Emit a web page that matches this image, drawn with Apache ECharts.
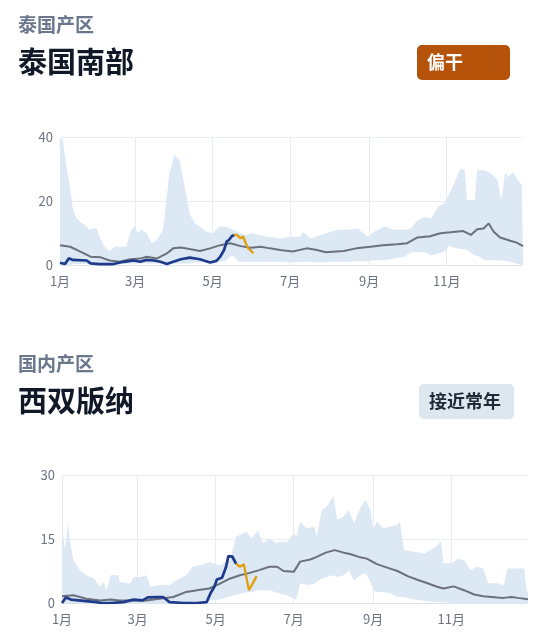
<!DOCTYPE html>
<html>
<head>
<meta charset="utf-8">
<script src="https://cdn.jsdelivr.net/npm/echarts@6/dist/echarts.min.js"></script>
<style>
html,body{margin:0;padding:0;background:#fff;}
#c{width:550px;height:635px;}
</style>
</head>
<body>
<div id="c"></div>
<script>
// ---- tick labels ----
const monthDays = [0, 59, 120, 181, 243, 304];
const monthLabels = ['1月', '3月', '5月', '7月', '9月', '11月'];

// ---- 泰国南部 ----
const thBandDays = [0,2,5,8,10,13,16,21,23,26,29,31,35,39,43,52,56,59,61,64,68,72,76,81,83,86,90,94,98,102,106,110,115,120,125,130,133,136,139,141,146,151,157,162,170,173,181,189,191,197,205,213,218,226,234,242,247,255,263,271,276,281,287,292,297,302,306,310,314,318,320,326,328,334,339,344,347,350,352,356,360,363,364];
const thUpper = [39,39.5,31,24,18,14.5,13.5,12,11,11.5,11.4,8.8,5.7,4.2,5.7,5.7,11,12,10,11,10,6.8,7.8,11,18,28.6,34.3,32.7,24.4,16,13,12,10.4,9.9,12,12,11.5,11,10.5,10,9.4,9.9,9.4,8.8,8.5,8.3,8.8,8.8,10.4,8.3,9.4,10.4,11,11,11.4,8.8,10.4,12,11,11,11.4,14,15,14.5,18.2,19.2,22.3,25.5,29.6,30.1,20.3,20.3,29.6,29.6,28.6,26.5,20.3,29,27.5,29,26.5,25,1];
const thLower = [0,0,0,0,0.2,0.3,0.3,0.3,0.3,0.3,0.3,0.3,0.2,0.2,0.2,0.3,0.5,0.5,0.5,0.5,0.5,0.5,0.5,0.5,0.5,0.5,0.5,0.5,0.5,0.5,0.8,0.8,1,1,1,1.2,2.5,3,1.5,1,1,1,1,1,1,1,0.8,1,1,1,0.8,1,1,1,1.2,1.2,1.5,1.5,2,2.6,4,4,4,3,3.5,4.2,6,5.5,5,5,4.7,3,3,1.5,1.5,1.5,1.5,1.2,1.2,0.8,0.3,0,0];
const thMeanDays = [0,8,16,24,32,39,47,55,63,68,76,84,89,95,103,110,118,126,134,142,150,158,165,173,183,194,202,209,223,233,244,254,265,273,281,291,299,307,317,323,328,333,337,341,346,354,359,364];
const thMean = [6.2,5.7,4.2,2.6,2.4,1.4,1,1.8,2,2.6,2,3.6,5.2,5.5,4.9,4.4,5.2,6.2,6.8,5.9,5.4,5.7,5.2,4.7,4.2,5.2,4.7,4,4.4,5.2,5.7,6.2,6.5,6.8,8.6,9,9.9,10.2,10.6,9.4,11.2,11.4,13,10.4,8.6,7.6,7,5.9];
const thObsDays = [0,4,7,10,21,24,31,42,50,58,63,68,74,79,84,89,95,102,110,118,123,126,129,131,133,135,137];
const thObs = [0.7,0.3,2.1,1.6,1.4,0.5,0.3,0.3,1,1.4,1,1.6,1.4,1,0.3,1,1.8,2.3,1.8,0.8,1.3,2.6,4.7,7.3,7.9,9,9.4];
const thFcstDays = [137,139,142,144,146,148,150,152];
const thFcst = [9.4,9.4,8.3,8.9,6.8,5.2,4.5,3.7];

// ---- 西双版纳 ----
const xsBandDays = [0,2,3,5,6,9,14,19,25,30,32,35,38,44,45,53,56,61,66,69,76,84,89,97,102,107,115,123,131,136,144,148,153,157,162,167,170,176,181,183,186,191,197,199,203,207,212,215,220,224,228,233,237,241,243,246,251,256,262,264,267,275,283,290,296,298,305,309,314,319,324,329,333,340,345,348,361,363,364];
const xsUpper = [17.9,13,14,19,14.7,10,7.7,6.5,5.7,3.8,4.9,3,6.5,6.5,4.9,4.5,6.1,6.1,6.5,3.8,4.2,4.2,5.3,6.5,8.5,8.8,9.6,8.8,10,15.5,16.7,15.1,17,14,15.1,14,14.3,14.4,16.3,15.5,19.1,17.5,17.9,15.6,21.8,22.6,25,19.5,20.3,21.8,18.7,22.2,24.2,21.8,17.1,19.1,17.5,17.9,18.3,19.1,12.4,12,11.6,12.8,14.4,9.3,9.3,10.4,10,7.7,8.5,8.1,4.6,4.6,4.2,8.1,8.1,3,2.5];
const xsLower = [0,0,0,0,0,0,0,0,0,0,0,0,0,0,0,0,0,0,0,0,0,0,0,0.2,0.3,0.5,0.5,0.8,1.5,2,2.5,2.5,3,3,3,2.5,2.2,1.8,1,0.8,4.6,4.2,4.5,5,5.7,6.1,6.5,6.1,6.5,7.7,5.3,6.5,6.9,5,3,2.6,2.6,2.3,1.4,1.4,1.4,0.8,0.5,0.3,0.2,0.2,0,0,0,0,0,0,0,0,0,0,0,0,0];
const xsMeanDays = [0,9,19,30,38,45,56,66,76,87,97,108,115,123,131,139,146,154,162,168,173,181,186,194,199,206,213,220,225,233,238,246,254,262,270,277,285,293,298,306,314,322,329,340,345,351,356,364];
const xsMean = [1.6,1.8,1,0.6,0.8,0.6,0.6,0.6,1,1.4,2.6,3.1,3.4,4.5,5.7,6.5,7,7.7,8.5,8.5,7.5,7.3,9.7,10.2,10.8,11.8,12.4,11.8,11.5,10.7,10.4,9.1,8.3,7.5,6.3,5.5,4.7,3.8,3.4,3.9,3,2,1.6,1.3,1.2,1.4,1.2,0.9];
const xsObsDays = [0,3,7,17,27,30,38,48,56,63,67,74,79,84,95,105,113,116,119,121,125,128,130,133,136];
const xsObs = [0,1.3,0.8,0.5,0.2,0,0,0.2,0.8,0.6,1.3,1.4,1.4,0.2,0,0,0.2,2.3,3.8,5.5,5.9,8.3,11,10.9,9.2];
const xsFcstDays = [136,139,142,146,149,152];
const xsFcst = [9.2,8.5,9.1,3,4.6,6.3];

// ---- build ----
const FONT = '"Noto Sans CJK SC", "Noto Sans", sans-serif';
const zip = (d, v) => d.map((x, i) => [x, v[i]]);

const C_BAND = '#dce8f4', C_MEAN = '#6b7079', C_OBS = '#1e3a8a', C_FCST = '#e0a00c';
const C_GRID = '#e8edf3', C_LABEL = '#6b7280';

function xAxis(gi) {
  return {
    type: 'value', gridIndex: gi, min: 0, max: 364,
    axisLine: { show: true, lineStyle: { color: '#dde3ea', width: 1 } },
    axisTick: { show: false, customValues: monthDays },
    axisLabel: {
      customValues: monthDays, margin: 10, fontSize: 13, color: C_LABEL, fontFamily: FONT,
      formatter: v => monthLabels[monthDays.indexOf(v)]
    },
    splitLine: { show: true, lineStyle: { color: C_GRID, width: 1 } }
  };
}
function yAxis(gi, max, interval) {
  return {
    type: 'value', gridIndex: gi, min: 0, max: max, interval: interval,
    axisLine: { show: false }, axisTick: { show: false },
    axisLabel: { margin: 7, fontSize: 13, color: C_LABEL, fontFamily: FONT },
    splitLine: { show: true, lineStyle: { color: C_GRID, width: 1 } }
  };
}
function bandSeries(gi, bd, up, lo) {
  return {
    type: 'custom', xAxisIndex: gi, yAxisIndex: gi, silent: true, animation: false, z: 1,
    clip: true,
    data: bd.map((d, i) => [d, up[i], lo[i]]),
    encode: { x: 0, y: [1, 2] },
    renderItem: function (params, api) {
      if (params.dataIndex !== 0) return null;
      const pts = [];
      for (let i = 0; i < bd.length; i++) pts.push(api.coord([bd[i], up[i]]));
      for (let i = bd.length - 1; i >= 0; i--) pts.push(api.coord([bd[i], lo[i]]));
      return { type: 'polygon', shape: { points: pts }, style: { fill: C_BAND } };
    }
  };
}
function seriesFor(gi, bd, up, lo, md, mv, od, ov, fd, fv) {
  const base = { type: 'line', xAxisIndex: gi, yAxisIndex: gi, symbol: 'none', silent: true, animation: false };
  return [
    bandSeries(gi, bd, up, lo),
    Object.assign({}, base, { data: zip(md, mv), lineStyle: { color: C_MEAN, width: 2 }, z: 3 }),
    Object.assign({}, base, { data: zip(od, ov), lineStyle: { color: C_OBS, width: 2.7 }, z: 4 }),
    Object.assign({}, base, { data: zip(fd, fv), lineStyle: { color: C_FCST, width: 2.3 }, z: 4 })
  ];
}

function badge(x, y, w, h, fill, text, color) {
  return {
    type: 'group', children: [
      { type: 'rect', shape: { x: x, y: y, width: w, height: h, r: 5 }, style: { fill: fill } },
      { type: 'text', x: x + 10, y: y + h / 2, style: { text: text, fill: color, font: 'bold 18px ' + FONT, verticalAlign: 'middle', align: 'left' } }
    ]
  };
}

const chart = echarts.init(document.getElementById('c'), null, { renderer: 'canvas' });
chart.setOption({
  animation: false,
  backgroundColor: '#fff',
  title: [
    { text: '泰国产区', left: 18, top: 15, padding: 0, textStyle: { fontSize: 19, fontWeight: 600, color: '#6b778c', fontFamily: FONT } },
    { text: '泰国南部', left: 18, top: 47, padding: 0, textStyle: { fontSize: 29, fontWeight: 'bold', color: '#111827', fontFamily: FONT } },
    { text: '国内产区', left: 18, top: 354, padding: 0, textStyle: { fontSize: 19, fontWeight: 600, color: '#6b778c', fontFamily: FONT } },
    { text: '西双版纳', left: 18, top: 386, padding: 0, textStyle: { fontSize: 29, fontWeight: 'bold', color: '#111827', fontFamily: FONT } }
  ],
  graphic: [
    badge(417, 45, 93, 35, '#b45309', '偏干', '#ffffff'),
    badge(419, 384, 95, 35, '#dde7f0', '接近常年', '#1f2937')
  ],
  grid: [
    { left: 60, right: 27, top: 137, height: 128, containLabel: false },
    { left: 62, right: 22, top: 475, height: 128, containLabel: false }
  ],
  xAxis: [xAxis(0), xAxis(1)],
  yAxis: [yAxis(0, 40, 20), yAxis(1, 30, 15)],
  series: [].concat(
    seriesFor(0, thBandDays, thUpper, thLower, thMeanDays, thMean, thObsDays, thObs, thFcstDays, thFcst),
    seriesFor(1, xsBandDays, xsUpper, xsLower, xsMeanDays, xsMean, xsObsDays, xsObs, xsFcstDays, xsFcst)
  )
});
</script>
</body>
</html>
